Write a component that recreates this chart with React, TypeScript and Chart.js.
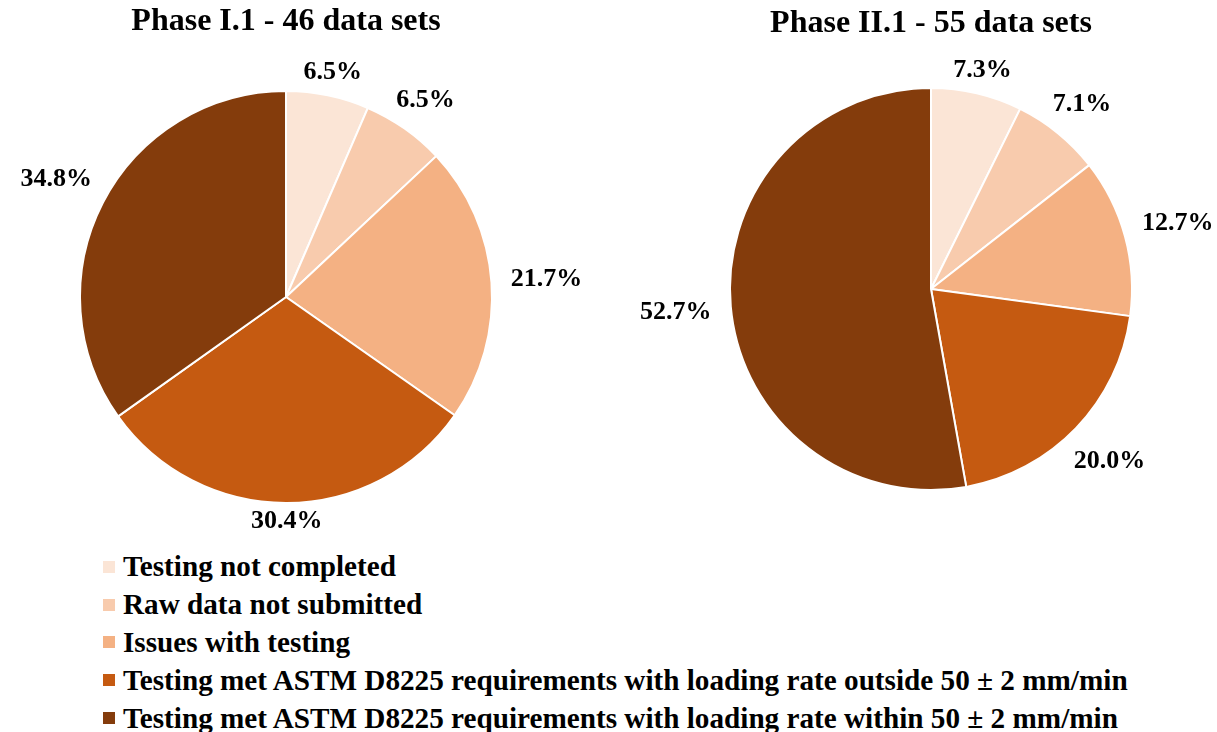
import React, { useEffect, useRef } from "react";
import { Chart, registerables } from "chart.js";

Chart.register(...registerables);

const categories = [
  "Testing not completed",
  "Raw data not submitted",
  "Issues with testing",
  "Testing met ASTM D8225 requirements with loading rate outside 50 ± 2 mm/min",
  "Testing met ASTM D8225 requirements with loading rate within 50 ± 2 mm/min",
];
const phase1Values = [6.5, 6.5, 21.7, 30.4, 34.8];
const phase2Values = [7.3, 7.1, 12.7, 20.0, 52.7];
const phase1Title = "Phase I.1 - 46 data sets";
const phase2Title = "Phase II.1 - 55 data sets";
const colors = ["#FBE5D6", "#F8CBAD", "#F4B183", "#C55A11", "#843C0C"];

const FONT = "'Liberation Serif', 'Times New Roman', serif";

const outerLabels = {
  id: "outerLabels",
  afterDatasetsDraw(chart: any) {
    const ctx = chart.ctx;
    const meta = chart.getDatasetMeta(0);
    const values = chart.data.datasets[0].data as number[];
    ctx.save();
    ctx.font = `bold 26px ${FONT}`;
    ctx.fillStyle = "#000";
    ctx.textAlign = "center";
    ctx.textBaseline = "middle";
    const gap = 12;
    const h = 10;
    meta.data.forEach((arc: any, i: number) => {
      const p = arc.getProps(["x", "y", "startAngle", "endAngle", "outerRadius"], true);
      const mid = (p.startAngle + p.endAngle) / 2;
      const text = values[i].toFixed(1) + "%";
      const w = ctx.measureText(text).width * 1.2;
      const c = Math.cos(mid);
      const s = Math.sin(mid);
      const ext = Math.abs(c) * w / 2 + Math.abs(s) * h / 2;
      const d = p.outerRadius + gap + ext;
      ctx.fillText(text, p.x + c * d, p.y + s * d + 1);
    });
    ctx.restore();
  },
};

function PieChart(props: {
  values: number[];
  title: string;
  left: number;
  width: number;
  height: number;
  titleTop: number;
  titleBottom: number;
  padBottom: number;
}) {
  const ref = useRef<HTMLCanvasElement>(null);
  useEffect(() => {
    const chart = new Chart(ref.current as HTMLCanvasElement, {
      type: "pie",
      data: {
        labels: categories,
        datasets: [
          {
            data: props.values,
            backgroundColor: colors,
            borderColor: "#ffffff",
            borderWidth: 2,
          },
        ],
      },
      options: {
        responsive: false,
        animation: false,
        devicePixelRatio: 1,
        layout: { padding: { top: 0, bottom: props.padBottom, left: 0, right: 0 } },
        plugins: {
          legend: { display: false },
          tooltip: { enabled: false },
          title: {
            display: true,
            text: props.title,
            color: "#000",
            font: { family: FONT, size: 32, weight: "bold", lineHeight: 1.2 },
            padding: { top: props.titleTop, bottom: props.titleBottom },
          },
        },
      },
      plugins: [outerLabels],
    } as any);
    return () => chart.destroy();
  }, []);
  return (
    <canvas
      ref={ref}
      width={props.width}
      height={props.height}
      style={{ position: "absolute", left: props.left, top: 0, width: props.width, height: props.height }}
    />
  );
}

export default function App() {
  return (
    <div
      style={{
        position: "absolute",
        left: 0,
        top: 0,
        width: 1217,
        height: 732,
        overflow: "hidden",
        background: "#fff",
      }}
    >
      <PieChart values={phase1Values} title={phase1Title} left={-100} width={772} height={540} titleTop={3} titleBottom={48.6} padBottom={36} />
      <PieChart values={phase2Values} title={phase2Title} left={581} width={700} height={540} titleTop={5} titleBottom={43.6} padBottom={49} />
      <div style={{ position: "absolute", left: 103, top: 548, fontFamily: FONT, fontWeight: "bold", fontSize: 29.2, color: "#000" }}>
        {categories.map((c, i) => (
          <div key={c} style={{ display: "flex", alignItems: "center", height: 37.8, whiteSpace: "nowrap" }}>
            <span style={{ display: "inline-block", width: 12, height: 12, background: colors[i], marginRight: 8 }} />
            <span>{c}</span>
          </div>
        ))}
      </div>
    </div>
  );
}
